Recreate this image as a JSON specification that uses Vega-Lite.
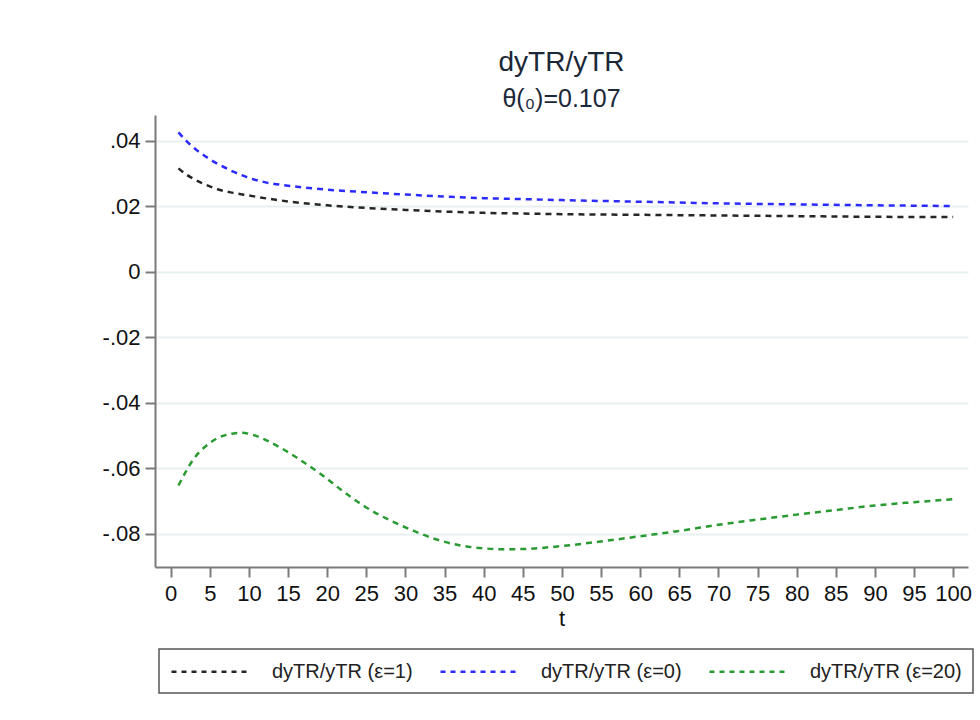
{
  "$schema": "https://vega.github.io/schema/vega-lite/v6.json",
  "autosize": {"type": "none"},
  "width": 813,
  "height": 452,
  "padding": {"left": 155, "top": 115, "right": 12, "bottom": 153},
  "background": "white",
  "title": {
    "text": "dyTR/yTR",
    "subtitle": "θ(₀)=0.107",
    "anchor": "middle",
    "font": "Liberation Sans",
    "fontSize": 28,
    "fontWeight": "normal",
    "color": "#1b2838",
    "subtitleFont": "Liberation Sans",
    "subtitleFontSize": 25,
    "subtitleColor": "#1b2838",
    "subtitlePadding": 10,
    "offset": 3
  },
  "datasets": {
    "curves": [
      {"t": 1, "s": "dyTR/yTR (ε=1)", "v": 0.0316},
      {"t": 2, "s": "dyTR/yTR (ε=1)", "v": 0.0297},
      {"t": 3, "s": "dyTR/yTR (ε=1)", "v": 0.0283},
      {"t": 4, "s": "dyTR/yTR (ε=1)", "v": 0.0271},
      {"t": 5, "s": "dyTR/yTR (ε=1)", "v": 0.0261},
      {"t": 6, "s": "dyTR/yTR (ε=1)", "v": 0.0252},
      {"t": 8, "s": "dyTR/yTR (ε=1)", "v": 0.0241},
      {"t": 10, "s": "dyTR/yTR (ε=1)", "v": 0.0233},
      {"t": 12, "s": "dyTR/yTR (ε=1)", "v": 0.0225},
      {"t": 15, "s": "dyTR/yTR (ε=1)", "v": 0.0215},
      {"t": 18, "s": "dyTR/yTR (ε=1)", "v": 0.0207},
      {"t": 20, "s": "dyTR/yTR (ε=1)", "v": 0.0203},
      {"t": 25, "s": "dyTR/yTR (ε=1)", "v": 0.0195},
      {"t": 30, "s": "dyTR/yTR (ε=1)", "v": 0.0189},
      {"t": 35, "s": "dyTR/yTR (ε=1)", "v": 0.0184},
      {"t": 40, "s": "dyTR/yTR (ε=1)", "v": 0.0180},
      {"t": 45, "s": "dyTR/yTR (ε=1)", "v": 0.0178},
      {"t": 50, "s": "dyTR/yTR (ε=1)", "v": 0.0176},
      {"t": 60, "s": "dyTR/yTR (ε=1)", "v": 0.0174},
      {"t": 70, "s": "dyTR/yTR (ε=1)", "v": 0.0172},
      {"t": 80, "s": "dyTR/yTR (ε=1)", "v": 0.0170},
      {"t": 90, "s": "dyTR/yTR (ε=1)", "v": 0.0168},
      {"t": 100, "s": "dyTR/yTR (ε=1)", "v": 0.0167},
      {"t": 1, "s": "dyTR/yTR (ε=0)", "v": 0.0426},
      {"t": 2, "s": "dyTR/yTR (ε=0)", "v": 0.0400},
      {"t": 3, "s": "dyTR/yTR (ε=0)", "v": 0.0378},
      {"t": 4, "s": "dyTR/yTR (ε=0)", "v": 0.0360},
      {"t": 5, "s": "dyTR/yTR (ε=0)", "v": 0.0344},
      {"t": 6, "s": "dyTR/yTR (ε=0)", "v": 0.0330},
      {"t": 8, "s": "dyTR/yTR (ε=0)", "v": 0.0306},
      {"t": 10, "s": "dyTR/yTR (ε=0)", "v": 0.0287},
      {"t": 12, "s": "dyTR/yTR (ε=0)", "v": 0.0274},
      {"t": 15, "s": "dyTR/yTR (ε=0)", "v": 0.0263},
      {"t": 18, "s": "dyTR/yTR (ε=0)", "v": 0.0255},
      {"t": 20, "s": "dyTR/yTR (ε=0)", "v": 0.0251},
      {"t": 25, "s": "dyTR/yTR (ε=0)", "v": 0.0243},
      {"t": 30, "s": "dyTR/yTR (ε=0)", "v": 0.0236},
      {"t": 35, "s": "dyTR/yTR (ε=0)", "v": 0.0230},
      {"t": 40, "s": "dyTR/yTR (ε=0)", "v": 0.0225},
      {"t": 45, "s": "dyTR/yTR (ε=0)", "v": 0.0222},
      {"t": 50, "s": "dyTR/yTR (ε=0)", "v": 0.0219},
      {"t": 60, "s": "dyTR/yTR (ε=0)", "v": 0.0214},
      {"t": 70, "s": "dyTR/yTR (ε=0)", "v": 0.0209},
      {"t": 80, "s": "dyTR/yTR (ε=0)", "v": 0.0206},
      {"t": 90, "s": "dyTR/yTR (ε=0)", "v": 0.0203},
      {"t": 100, "s": "dyTR/yTR (ε=0)", "v": 0.0201},
      {"t": 1, "s": "dyTR/yTR (ε=20)", "v": -0.0653},
      {"t": 2, "s": "dyTR/yTR (ε=20)", "v": -0.0608},
      {"t": 3, "s": "dyTR/yTR (ε=20)", "v": -0.0570},
      {"t": 4, "s": "dyTR/yTR (ε=20)", "v": -0.0543},
      {"t": 5, "s": "dyTR/yTR (ε=20)", "v": -0.0523},
      {"t": 6, "s": "dyTR/yTR (ε=20)", "v": -0.0508},
      {"t": 7, "s": "dyTR/yTR (ε=20)", "v": -0.0499},
      {"t": 8, "s": "dyTR/yTR (ε=20)", "v": -0.0494},
      {"t": 9, "s": "dyTR/yTR (ε=20)", "v": -0.0492},
      {"t": 10, "s": "dyTR/yTR (ε=20)", "v": -0.0495},
      {"t": 11, "s": "dyTR/yTR (ε=20)", "v": -0.0502},
      {"t": 12, "s": "dyTR/yTR (ε=20)", "v": -0.0512},
      {"t": 13, "s": "dyTR/yTR (ε=20)", "v": -0.0524},
      {"t": 14, "s": "dyTR/yTR (ε=20)", "v": -0.0537},
      {"t": 15, "s": "dyTR/yTR (ε=20)", "v": -0.0551},
      {"t": 16, "s": "dyTR/yTR (ε=20)", "v": -0.0566},
      {"t": 17, "s": "dyTR/yTR (ε=20)", "v": -0.0582},
      {"t": 18, "s": "dyTR/yTR (ε=20)", "v": -0.0598},
      {"t": 19, "s": "dyTR/yTR (ε=20)", "v": -0.0615},
      {"t": 20, "s": "dyTR/yTR (ε=20)", "v": -0.0633},
      {"t": 22, "s": "dyTR/yTR (ε=20)", "v": -0.0670},
      {"t": 25, "s": "dyTR/yTR (ε=20)", "v": -0.0720},
      {"t": 28, "s": "dyTR/yTR (ε=20)", "v": -0.0759},
      {"t": 31, "s": "dyTR/yTR (ε=20)", "v": -0.0791},
      {"t": 34, "s": "dyTR/yTR (ε=20)", "v": -0.0818},
      {"t": 37, "s": "dyTR/yTR (ε=20)", "v": -0.0836},
      {"t": 40, "s": "dyTR/yTR (ε=20)", "v": -0.0845},
      {"t": 43, "s": "dyTR/yTR (ε=20)", "v": -0.0848},
      {"t": 46, "s": "dyTR/yTR (ε=20)", "v": -0.0846},
      {"t": 50, "s": "dyTR/yTR (ε=20)", "v": -0.0838},
      {"t": 55, "s": "dyTR/yTR (ε=20)", "v": -0.0824},
      {"t": 60, "s": "dyTR/yTR (ε=20)", "v": -0.0808},
      {"t": 65, "s": "dyTR/yTR (ε=20)", "v": -0.0792},
      {"t": 70, "s": "dyTR/yTR (ε=20)", "v": -0.0773},
      {"t": 75, "s": "dyTR/yTR (ε=20)", "v": -0.0757},
      {"t": 80, "s": "dyTR/yTR (ε=20)", "v": -0.0742},
      {"t": 85, "s": "dyTR/yTR (ε=20)", "v": -0.0728},
      {"t": 90, "s": "dyTR/yTR (ε=20)", "v": -0.0714},
      {"t": 95, "s": "dyTR/yTR (ε=20)", "v": -0.0704},
      {"t": 100, "s": "dyTR/yTR (ε=20)", "v": -0.0695}
    ]
  },
  "data": {"name": "curves"},
  "mark": {"type": "line", "strokeWidth": 2.5, "strokeDash": [6, 5], "interpolate": "monotone", "clip": true},
  "encoding": {
    "x": {
      "field": "t",
      "type": "quantitative",
      "title": "t",
      "scale": {"domain": [-2, 101.9], "nice": false, "zero": false},
      "axis": {
        "values": [0, 5, 10, 15, 20, 25, 30, 35, 40, 45, 50, 55, 60, 65, 70, 75, 80, 85, 90, 95, 100],
        "grid": false,
        "labelAngle": 0,
        "labelFlush": false,
        "labelOverlap": false,
        "tickSize": 10,
        "labelPadding": 6,
        "titlePadding": 4
      }
    },
    "y": {
      "field": "v",
      "type": "quantitative",
      "title": null,
      "scale": {"domain": [-0.0902, 0.0479], "nice": false, "zero": false},
      "axis": {
        "values": [-0.08, -0.06, -0.04, -0.02, 0, 0.02, 0.04],
        "grid": true,
        "labelExpr": "datum.value == 0 ? '0' : (datum.value < 0 ? '-' : '') + '.0' + toString(abs(round(datum.value * 100)))",
        "tickSize": 10,
        "labelPadding": 5,
        "labelFlush": false,
        "labelOverlap": false
      }
    },
    "color": {
      "field": "s",
      "type": "nominal",
      "title": null,
      "scale": {
        "domain": ["dyTR/yTR (ε=1)", "dyTR/yTR (ε=0)", "dyTR/yTR (ε=20)"],
        "range": ["#262626", "#2b2bff", "#2a9a32"]
      },
      "legend": {
        "orient": "none",
        "legendX": 4,
        "legendY": 534,
        "direction": "horizontal",
        "columns": 3,
        "symbolType": "M-1,0H7",
        "symbolSize": 400,
        "symbolStrokeWidth": 2.5,
        "symbolDash": [5, 5],
        "labelOffset": 79,
        "columnPadding": 22,
        "padding": 11,
        "strokeColor": "#555555",
        "labelFont": "Liberation Sans",
        "labelFontSize": 20,
        "labelColor": "#222222",
        "labelLimit": 300
      }
    }
  },
  "config": {
    "view": {"stroke": null},
    "axis": {
      "labelFont": "Liberation Sans",
      "labelFontSize": 22,
      "labelColor": "#111111",
      "titleFont": "Liberation Sans",
      "titleFontSize": 22,
      "titleFontWeight": "normal",
      "titleColor": "#111111",
      "domainColor": "#7a7a7a",
      "domainWidth": 2,
      "tickColor": "#7a7a7a",
      "tickWidth": 2,
      "gridColor": "#e8f0f2",
      "gridWidth": 2
    },
    "legend": {"strokeWidth": 1.5}
  }
}
